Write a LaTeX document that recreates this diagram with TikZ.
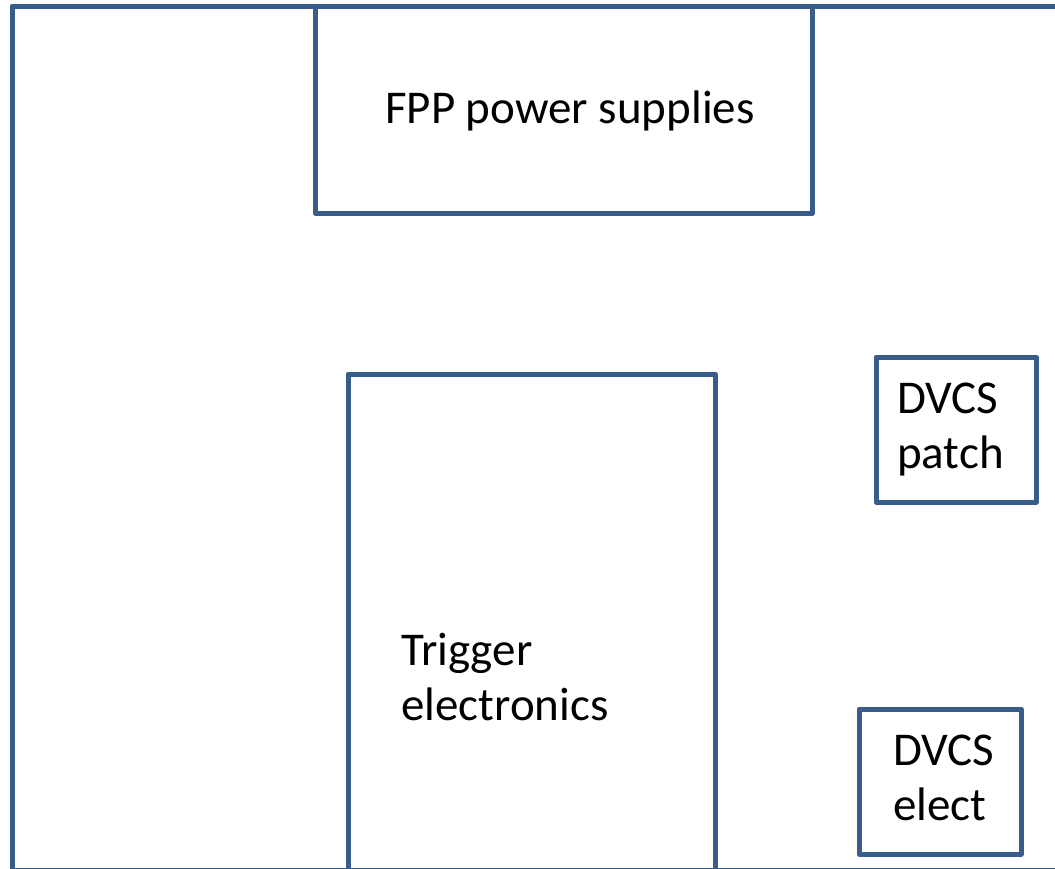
\documentclass[tikz,border=0pt]{standalone}
\usepackage{fontspec}
\setmainfont{Carlito}
\definecolor{wallblue}{HTML}{385D8A}

\begin{document}
\begin{tikzpicture}[
        x=1pt, y=-1pt,
        rack/.style={draw=wallblue, line width=5pt, line join=round, inner sep=0pt},
        roomtext/.style={anchor=base west, align=left, inner sep=0pt,
                font=\fontsize{47}{55}\selectfont}
    ]
    \useasboundingbox (0,0) rectangle (1055,868);
    \clip (0,0) rectangle (1055,868);
    % room outline
    \draw[rack] (12,6) rectangle (1080,870.5);

    \node[rack, minimum width=497pt, minimum height=207pt] (fpp) at (563.5,109.5) {};
    \node[rack, minimum width=367pt, minimum height=510pt] (trigger) at (531.5,629) {};
    \node[rack, minimum width=160pt, minimum height=145pt] (patch) at (956,429.5) {};
    \node[rack, minimum width=162pt, minimum height=145pt] (elect) at (940,781.5) {};

    \node[roomtext] (fpptext) at (385,123) {FPP power supplies};
    \node[roomtext] (triggertext) at (401,720) {Trigger\\electronics};
    \node[roomtext] (patchtext) at (897,468) {DVCS\\patch};
    \node[roomtext] (electtext) at (893,820) {DVCS\\elect};
\end{tikzpicture}
\end{document}
